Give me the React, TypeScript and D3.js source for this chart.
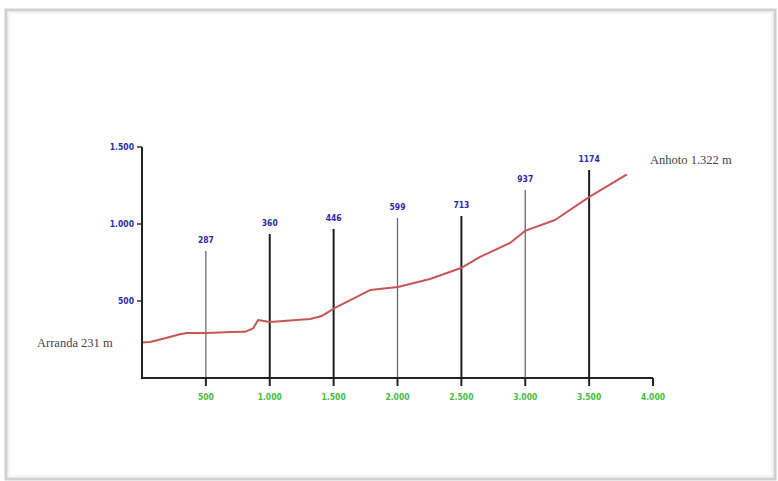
import React from "react";
import * as d3 from "d3";

const profileDistance = [0, 63, 180, 297, 352, 509, 700, 806, 870, 908, 1002, 1315, 1409, 1511, 1785, 2004, 2254, 2497, 2646, 2881, 2998, 3233, 3499, 3796];
const profileElevation = [231, 234, 258, 284, 292, 293, 298, 300, 322, 377, 364, 383, 403, 455, 571, 591, 643, 714, 786, 877, 955, 1026, 1175, 1322];

const markerDistance = [500, 1000, 1500, 2000, 2500, 3000, 3500];
const markerHeight = [825, 935, 968, 1039, 1052, 1221, 1351];
const markerLabel = ["287", "360", "446", "599", "713", "937", "1174"];
const markerHeavy = [false, true, true, false, true, false, true];

const xTicks = [500, 1000, 1500, 2000, 2500, 3000, 3500, 4000];
const xTickLabels = ["500", "1.000", "1.500", "2.000", "2.500", "3.000", "3.500", "4.000"];
const yTicks = [500, 1000, 1500];
const yTickLabels = ["500", "1.000", "1.500"];

const startLabel = "Arranda 231 m";
const endLabel = "Anhoto 1.322 m";

export default function App() {
  const W = 778, H = 481;
  const x = d3.scaleLinear().domain([0, 4000]).range([142, 653]);
  const y = d3.scaleLinear().domain([0, 1500]).range([378, 147]);
  const line = d3.line<number>()
    .x((_, i) => x(profileDistance[i]))
    .y((d) => y(d))
    .curve(d3.curveLinear);
  const lab = { fontFamily: "'DejaVu Sans Condensed', 'DejaVu Sans', sans-serif", fontWeight: 700, fontSize: 8.5 } as const;
  return (
    <svg width={W} height={H} style={{ position: "fixed", left: 0, top: 0, background: "#fff" }}>
      <rect x={0} y={0} width={W} height={H} fill="#fff" />
      <rect x={6} y={10} width={769} height={469} fill="#fefefe" stroke="#d0d0d0" strokeWidth={3} />
      <rect x={9} y={13} width={763} height={463} fill="none" stroke="#ececec" strokeWidth={1} />

      {markerDistance.map((d, i) => (
        <g key={"m" + i}>
          <line x1={x(d)} x2={x(d)} y1={y(0)} y2={y(markerHeight[i])}
            stroke={markerHeavy[i] ? "#1e1e1e" : "#6a6a6a"} strokeWidth={markerHeavy[i] ? 2 : 1.3} />
          <text x={x(d)} y={y(markerHeight[i]) - 8} textAnchor="middle" fill="#2b2bb0" {...lab}>{markerLabel[i]}</text>
        </g>
      ))}

      <path d={line(profileElevation) || ""} fill="none" stroke="#c45656" strokeWidth={2} strokeLinejoin="round" />

      <line x1={x(0)} x2={x(0)} y1={y(1500)} y2={y(0)} stroke="#222" strokeWidth={2} />
      <line x1={x(0) - 1} x2={x(4000)} y1={y(0)} y2={y(0)} stroke="#222" strokeWidth={2} />
      {yTicks.map((t, i) => (
        <g key={"y" + i}>
          <line x1={x(0) - 5} x2={x(0)} y1={y(t)} y2={y(t)} stroke="#333" strokeWidth={1.5} />
          <text x={x(0) - 8} y={y(t) + 3} textAnchor="end" fill="#2b2bb0" {...lab}>{yTickLabels[i]}</text>
        </g>
      ))}
      {xTicks.map((t, i) => (
        <g key={"x" + i}>
          <line x1={x(t)} x2={x(t)} y1={y(0)} y2={y(0) + 8} stroke="#222" strokeWidth={2} />
          <text x={x(t)} y={y(0) + 22} textAnchor="middle" fill="#4cbb3a" {...lab}>{xTickLabels[i]}</text>
        </g>
      ))}

      <text x={37} y={y(231) + 5} fill="#444" fontFamily="'Liberation Serif', serif" fontSize={12.5}>{startLabel}</text>
      <text x={650} y={y(1322) - 10} fill="#444" fontFamily="'Liberation Serif', serif" fontSize={12.5}>{endLabel}</text>
    </svg>
  );
}
